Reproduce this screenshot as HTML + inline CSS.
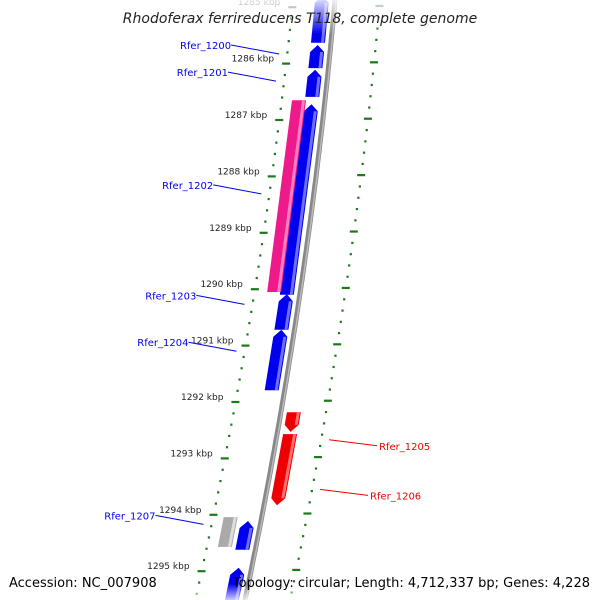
<!DOCTYPE html>
<html><head><meta charset="utf-8"><style>
body{margin:0;background:#fff}
svg{display:block;font-family:"DejaVu Sans","Liberation Sans",sans-serif}
</style></head><body>
<svg id="chart" width="600" height="600" viewBox="0 0 600 600">
<defs>
<linearGradient id="fadeTop" x1="0" y1="0" x2="0" y2="1"><stop offset="0" stop-color="#fff" stop-opacity="0.85"/><stop offset="1" stop-color="#fff" stop-opacity="0"/></linearGradient>
<linearGradient id="fadeBot" x1="0" y1="0" x2="0" y2="1"><stop offset="0" stop-color="#fff" stop-opacity="0"/><stop offset="1" stop-color="#fff" stop-opacity="0.8"/></linearGradient>
</defs>
<g id="layer"></g>
<rect x="0" y="0" width="600" height="34" fill="url(#fadeTop)"/>
<rect x="0" y="584" width="600" height="16" fill="url(#fadeBot)"/>
<text x="300" y="23" text-anchor="middle" font-size="14" font-style="italic" fill="#222">Rhodoferax ferrireducens T118, complete genome</text>
<text x="9" y="587" font-size="13" fill="#000">Accession: NC_007908</text>
<text x="590" y="587" text-anchor="end" font-size="13" fill="#000">Topology: circular; Length: 4,712,337 bp; Genes: 4,228</text>
</svg>
<script>
const tickKbp = [1285,1286,1287,1288,1289,1290,1291,1292,1293,1294,1295];
const geneStart = [1284.8,1285.67,1286.11,1286.72,1286.65,1290.09,1290.72,1292.18,1292.57,1294.04,1294.11,1294.94];
const geneEnd   = [1285.63,1286.08,1286.59,1290.10,1290.05,1290.72,1291.79,1292.53,1293.83,1294.57,1294.62,1295.6];
const geneKind  = ['fwd','fwd','fwd','fwd','pink','fwd','fwd','rev','rev','gray','fwd','fwd'];
const labelNames = ['Rfer_1200','Rfer_1201','Rfer_1202','Rfer_1203','Rfer_1204','Rfer_1205','Rfer_1206','Rfer_1207'];
const labelKbp = [1285.83,1286.31,1288.31,1290.27,1291.10,1292.67,1293.55,1294.17];
const labelSide = ['L','L','L','L','L','R','R','L'];

const NS='http://www.w3.org/2000/svg';
const g=document.getElementById('layer');
function y(k){return 120+(k-1287)*56.4;}
function bb(yy){return 335-0.09*yy-0.0001*yy*yy;}
function inner(yy){return bb(yy)-42-0.013*yy;}
function outer(yy){return bb(yy)+45;}
function mk(tag,attrs){const e=document.createElementNS(NS,tag);for(const k in attrs)e.setAttribute(k,attrs[k]);g.appendChild(e);return e;}

// backbone
let d='';for(let yy=-5;yy<=605;yy+=5){d+=(yy<0?'M':'L')+bb(yy).toFixed(1)+' '+yy;}
let bk=mk('path',{d:d,stroke:'#888',fill:'none','stroke-width':5});


let bk2=mk('path',{d:d,stroke:'#bbb',fill:'none','stroke-width':1.5,transform:'translate(1,0)'});



// minor ticks / dots
for(let k=1284.8;k<=1295.7;k+=0.2){
  const yy=y(k);
  const major=Math.abs(k-Math.round(k))<0.01;
  if(!major){
    const dt=mk('rect',{x:inner(yy)-1,y:yy-1,width:2.2,height:2.2,fill:'#1a7a1a'});
    
    
  }
  const yo=yy+10;
  const kk=((k-1284.8)/0.2);
  const om=Math.round(kk)%5===0;
  if(om){
    const ln=mk('line',{x1:outer(yo)-4,x2:outer(yo)+4,y1:yo,y2:yo,stroke:'#1a7a1a','stroke-width':2.2});
    
    
  } else {
    const dt=mk('rect',{x:outer(yo)-1,y:yo-1,width:2.2,height:2.2,fill:'#1a7a1a'});
    
    
  }
}
tickKbp.forEach(k=>{
  const yy=y(k);const x=inner(yy);
  const ln=mk('line',{x1:x-4,x2:x+4,y1:yy,y2:yy,stroke:'#1a7a1a','stroke-width':2.2});
  
  
  const t=mk('text',{x:x-12,y:yy-2,'text-anchor':'end','font-size':9,fill:'#222'});
  t.textContent=k+' kbp';
  
  
});

// genes
const colors={fwd:['#0000ee','#6f6fff'],rev:['#ee0000','#ff7070'],pink:['#ee1a8c','#ff80c0'],gray:['#aaaaaa','#dddddd']};
const offs={fwd:[-20,-6],rev:[6,20],pink:[-33,-19],gray:[-38,-24]};
geneStart.forEach((s,i)=>{
  const kind=geneKind[i];const y1=y(s),y2=y(geneEnd[i]);
  const [o1,o2]=offs[kind];const ah=7;
  let pts;
  const P=(yy,o)=>(bb(yy)+o).toFixed(1)+','+yy.toFixed(1);
  if(kind==='fwd'){pts=[P(y1,(o1+o2)/2),P(y1+ah,o2),P(y2,o2),P(y2,o1),P(y1+ah,o1)];}
  else if(kind==='rev'){pts=[P(y1,o1),P(y1,o2),P(y2-ah,o2),P(y2,(o1+o2)/2),P(y2-ah,o1)];}
  else {pts=[P(y1,o1),P(y1,o2),P(y2,o2),P(y2,o1)];}
  const p=mk('polygon',{points:pts.join(' '),fill:colors[kind][0]});
  
  
  const hl=[P(y1+(kind==='fwd'?ah:0),o2-4),P(y1+(kind==='fwd'?ah:0),o2-1),P(y2-(kind==='rev'?ah:0),o2-1),P(y2-(kind==='rev'?ah:0),o2-4)];
  const h=mk('polygon',{points:hl.join(' '),fill:colors[kind][1]});
  
  
});

// labels
labelNames.forEach((n,i)=>{
  const yy=y(labelKbp[i]);
  if(labelSide[i]==='L'){
    const x2=inner(yy)-8;
    const ln=mk('line',{x1:x2-48,y1:yy-9,x2:x2,y2:yy,stroke:'#0000ee','stroke-width':1});
    
    
    const t=mk('text',{x:x2-48,y:yy-5,'text-anchor':'end','font-size':10,fill:'#0000ee'});
    t.textContent=n;
    
    
  } else {
    const x1=outer(yy)+8;
    const ln=mk('line',{x1:x1,y1:yy,x2:x1+48,y2:yy+6,stroke:'#ee0000','stroke-width':1});
    
    
    const t=mk('text',{x:x1+50,y:yy+10,'font-size':10,fill:'#ee0000'});
    t.textContent=n;
    
    
  }
});
</script>
</body></html>
